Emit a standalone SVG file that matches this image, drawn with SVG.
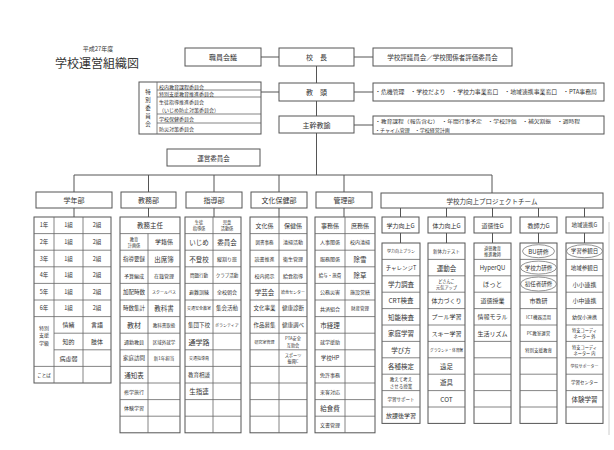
<svg xmlns="http://www.w3.org/2000/svg" width="614" height="450" viewBox="0 0 614 450">
<style>
text{font-family:"Noto Sans CJK JP","Noto Sans",sans-serif;fill:#333;text-anchor:middle;dominant-baseline:central}
.b{fill:#fff;stroke:#555;stroke-width:1}
.g{fill:none;stroke:#666;stroke-width:0.8}
.c{fill:none;stroke:#555;stroke-width:1}
.o{fill:none;stroke:#777;stroke-width:0.8}
.f7{font-size:7px}.f65{font-size:6.5px}.f6{font-size:6px}.f55{font-size:5.5px}.f5{font-size:5px}.f45{font-size:4.5px}.f42{font-size:4.2px}.f4{font-size:4px}
</style>
<rect width="614" height="450" fill="#fff"/>
<g id="title">
<text x="98" y="48" class="f6">平成27年度</text>
<text x="97" y="62" style="font-size:12px">学校運営組織図</text>
</g>
<g id="connectors">
<path class="c" d="M261,57H279M354,57H373M316.5,66V83M261,92H279M354,92H373M316.5,101V116M354,125H373M316.5,133V175M74,175H492M74,175V192M148.5,175V192M214,175V192M279,175V192M344,175V192M492,175V193M74,208V217M148.5,208V217M214,208V217M279,208V217M344,208V217M400.5,208V217M446.5,208V217M492.5,208V217M538.5,208V217M584.5,208V217M400.5,233V243M446.5,233V243M492.5,233V243M538.5,233V243M584.5,233V243"/>
</g>
<g id="shokuin"><rect class="b" x="185" y="48" width="76" height="18"/><text x="223" y="57" class="f7">職員会議</text></g>
<g id="kocho"><rect class="b" x="279" y="48" width="75" height="18"/><text x="316.5" y="57" class="f7">校　長</text></g>
<g id="hyogi"><rect class="b" x="373" y="48" width="139" height="18"/><text x="442.5" y="57" class="f65">学校評議員会／学校関係者評価委員会</text></g>
<g id="kyoto"><rect class="b" x="279" y="83" width="75" height="18"/><text x="316.5" y="92" class="f7">教　頭</text></g>
<g id="kyoto-duty"><rect class="b" x="373" y="83" width="231" height="18"/><text x="486" y="92" class="f55" textLength="222" lengthAdjust="spacingAndGlyphs">・危機管理　・学校だより　・学校力事業窓口　・地域連携事業窓口　・PTA事務局</text></g>
<g id="shukan"><rect class="b" x="279" y="116" width="75" height="17"/><text x="316.5" y="124.5" class="f7">主幹教諭</text></g>
<g id="shukan-duty"><rect class="b" x="373" y="116" width="231" height="18"/>
<text x="375" y="120.5" class="f5" style="text-anchor:start" textLength="205" lengthAdjust="spacingAndGlyphs">・教育課程（報告含む）　・年間行事予定　・学校評価　・補欠割振　・週時程</text>
<text x="375" y="129" class="f5" style="text-anchor:start">・チャイム管理　・学校経営計画</text></g>
<g id="tokubetsu">
<rect class="b" x="139" y="82" width="122" height="52"/>
<path class="g" d="M157,82V134M157,90H261M157,97H261M157,114H261M157,123H261"/>
<text x="148" y="92" class="f55">特</text><text x="148" y="100" class="f55">別</text><text x="148" y="108" class="f55">委</text><text x="148" y="116" class="f55">員</text><text x="148" y="124" class="f55">会</text>
<text x="159" y="86.3" class="f5" style="text-anchor:start">校内教育課程委員会</text>
<text x="159" y="93.5" class="f5" style="text-anchor:start">特別支援教育推進委員会</text>
<text x="159" y="101.2" class="f5" style="text-anchor:start">生徒指導推進委員会</text>
<text x="159" y="109.5" class="f5" style="text-anchor:start">（いじめ防止対策委員会）</text>
<text x="159" y="118.5" class="f5" style="text-anchor:start">学校保健委員会</text>
<text x="159" y="128.5" class="f5" style="text-anchor:start">防災対策委員会</text>
</g>
<g id="unei"><rect class="b" x="167" y="149" width="93" height="17"/><text x="213.5" y="157.5" class="f65">運営委員会</text></g>
<g id="gakunen">
<rect class="b" x="36" y="192" width="76" height="16"/><text x="74" y="200" class="f7">学年部</text>
<rect class="b" x="34" y="217" width="77" height="166"/>
<path class="g" d="M54,217V383M83,217V383M34,233.6H111M34,250.2H111M34,266.8H111M34,283.4H111M34,300H111M34,316.6H111M54,333.2H111M54,349.8H111M34,366.4H111"/>
<text x="44" y="225.3" class="f55">1年</text><text x="68.5" y="225.3" class="f55">1組</text><text x="97" y="225.3" class="f55">2組</text>
<text x="44" y="241.9" class="f55">2年</text><text x="68.5" y="241.9" class="f55">1組</text><text x="97" y="241.9" class="f55">2組</text>
<text x="44" y="258.5" class="f55">3年</text><text x="68.5" y="258.5" class="f55">1組</text><text x="97" y="258.5" class="f55">2組</text>
<text x="44" y="275.1" class="f55">4年</text><text x="68.5" y="275.1" class="f55">1組</text><text x="97" y="275.1" class="f55">2組</text>
<text x="44" y="291.7" class="f55">5年</text><text x="68.5" y="291.7" class="f55">1組</text><text x="97" y="291.7" class="f55">2組</text>
<text x="44" y="308.3" class="f55">6年</text><text x="68.5" y="308.3" class="f55">1組</text><text x="97" y="308.3" class="f55">2組</text>
<text x="44" y="327" class="f5">特別</text><text x="44" y="334.5" class="f5">支援</text><text x="44" y="342" class="f5">学級</text>
<text x="68.5" y="324.9" class="f6">情緒</text><text x="97" y="324.9" class="f6">言語</text>
<text x="68.5" y="341.5" class="f6">知的</text><text x="97" y="341.5" class="f6">肢体</text>
<text x="68.5" y="358.1" class="f6">病虚弱</text>
<text x="44" y="374.7" class="f45">ことば</text>
</g>
<g id="kyomu">
<rect class="b" x="121" y="192" width="55" height="16"/><text x="148.5" y="200" class="f7">教務部</text>
<rect class="b" x="120" y="217" width="60" height="215.8"/>
<path class="g" d="M148,233.6V432.8M120,233.6H180M120,250.2H180M120,266.8H180M120,283.4H180M120,300H180M120,316.6H180M120,333.2H180M120,349.8H180M120,366.4H180M120,383H180M120,399.6H180M120,416.2H180"/>
<text x="150" y="225.3" class="f65">教務主任</text>
<text x="134" y="238.8" class="f42">教育</text><text x="134" y="245" class="f42">計画係</text><text x="164" y="241.9" class="f6">学籍係</text>
<text x="134" y="258.5" class="f55">指導要録</text><text x="164" y="258.5" class="f65">出席簿</text>
<text x="134" y="275.1" class="f5">予算編成</text><text x="164" y="275.1" class="f5">在籍管理</text>
<text x="134" y="291.7" class="f55">加配時数</text><text x="164" y="291.7" class="f4">スクールバス</text>
<text x="134" y="308.3" class="f55">時数集計</text><text x="164" y="308.3" class="f65">教科書</text>
<text x="134" y="324.9" class="f7">教材</text><text x="164" y="324.9" class="f45">教科書取扱</text>
<text x="134" y="341.5" class="f5">通勤教員</text><text x="164" y="341.5" class="f45">区域外就学</text>
<text x="134" y="358.1" class="f55">家庭訪問</text><text x="164" y="358.1" class="f45">新1年担当</text>
<text x="134" y="374.7" class="f65">通知表</text>
<text x="134" y="391.3" class="f5">修学旅行</text>
<text x="134" y="407.9" class="f5">体験学習</text>
</g>
<g id="shido">
<rect class="b" x="186" y="192" width="56" height="16"/><text x="214" y="200" class="f7">指導部</text>
<rect class="b" x="185" y="217" width="56" height="215.8"/>
<path class="g" d="M213,217V432.8M185,233.6H241M185,250.2H241M185,266.8H241M185,283.4H241M185,300H241M185,316.6H241M185,333.2H241M185,349.8H241M185,366.4H241M185,383H241M185,399.6H241M185,416.2H241"/>
<text x="199" y="222.2" class="f42">生徒</text><text x="199" y="228.4" class="f42">指導係</text>
<text x="227" y="222.2" class="f42">児童</text><text x="227" y="228.4" class="f42">活動係</text>
<text x="199" y="241.9" class="f65">いじめ</text><text x="227" y="241.9" class="f65">委員会</text>
<text x="199" y="258.5" class="f65">不登校</text><text x="227" y="258.5" class="f5">縦割り班</text>
<text x="199" y="275.1" class="f45">問題行動</text><text x="227" y="275.1" class="f45">クラブ活動</text>
<text x="199" y="291.7" class="f5">避難訓練</text><text x="227" y="291.7" class="f5">全校朝会</text>
<text x="199" y="308.3" class="f4">交通安全教室</text><text x="227" y="308.3" class="f55">集会活動</text>
<text x="199" y="324.9" class="f55">集団下校</text><text x="227" y="324.9" class="f4">ボランティア</text>
<text x="199" y="341.5" class="f7">通学路</text>
<text x="199" y="358.1" class="f4">交通指導員</text>
<text x="199" y="374.7" class="f55">教育相談</text>
<text x="199" y="391.3" class="f65">生指連</text>
</g>
<g id="bunka">
<rect class="b" x="251" y="192" width="56" height="16"/><text x="279" y="200" class="f7">文化保健部</text>
<rect class="b" x="250" y="217" width="57" height="215.8"/>
<path class="g" d="M279,217V432.8M250,233.6H307M250,250.2H307M250,266.8H307M250,283.4H307M250,300H307M250,316.6H307M250,333.2H307M250,349.8H307M250,366.4H307M250,383H307M250,399.6H307M250,416.2H307"/>
<text x="264.5" y="225.3" class="f6">文化係</text><text x="293" y="225.3" class="f6">保健係</text>
<text x="264.5" y="241.9" class="f45">図書事務</text><text x="293" y="241.9" class="f5">清掃活動</text>
<text x="264.5" y="258.5" class="f5">読書推進</text><text x="293" y="258.5" class="f5">衛生管理</text>
<text x="264.5" y="275.1" class="f5">校内掲示</text><text x="293" y="275.1" class="f5">給食指導</text>
<text x="264.5" y="291.7" class="f65">学芸会</text><text x="293" y="291.7" class="f4">給食センター</text>
<text x="264.5" y="308.3" class="f55">文化事業</text><text x="293" y="308.3" class="f55">健康診断</text>
<text x="264.5" y="324.9" class="f55">作品募集</text><text x="293" y="324.9" class="f55">健康調べ</text>
<text x="264.5" y="341.5" class="f4">研究室管理</text><text x="293" y="338.4" class="f42">PTA安全</text><text x="293" y="344.6" class="f42">互助会</text>
<text x="293" y="355" class="f42">スポーツ</text><text x="293" y="361.2" class="f42">振興C</text>
</g>
<g id="kanri">
<rect class="b" x="316" y="192" width="56" height="16"/><text x="344" y="200" class="f7">管理部</text>
<rect class="b" x="315" y="217" width="60" height="215.8"/>
<path class="g" d="M345,217V432.8M315,233.6H375M315,250.2H375M315,266.8H375M315,283.4H375M315,300H375M315,316.6H375M315,333.2H375M315,349.8H375M315,366.4H375M315,383H375M315,399.6H375M315,416.2H375"/>
<text x="330" y="225.3" class="f6">事務係</text><text x="360" y="225.3" class="f6">庶務係</text>
<text x="330" y="241.9" class="f5">人事関係</text><text x="360" y="241.9" class="f5">校内清掃</text>
<text x="330" y="258.5" class="f5">服務関係</text><text x="360" y="258.5" class="f65">除雪</text>
<text x="330" y="275.1" class="f45">給与・旅費</text><text x="360" y="275.1" class="f65">除草</text>
<text x="330" y="291.7" class="f5">公務災害</text><text x="360" y="291.7" class="f5">施設営繕</text>
<text x="330" y="308.3" class="f5">共済組合</text><text x="360" y="308.3" class="f45">財産管理</text>
<text x="330" y="324.9" class="f65">市経理</text>
<text x="330" y="341.5" class="f5">就学援助</text>
<text x="330" y="358.1" class="f55">学校HP</text>
<text x="330" y="374.7" class="f5">免許事務</text>
<text x="330" y="391.3" class="f5">来客対応</text>
<text x="330" y="407.9" class="f65">給食費</text>
<text x="330" y="424.5" class="f5">文書管理</text>
</g>
<g id="pt">
<rect class="b" x="381" y="193" width="222" height="15"/><text x="492" y="200.5" class="f65">学校力向上プロジェクトチーム</text>
</g>
<g id="gakuryoku">
<rect class="b" x="382" y="217" width="37" height="16"/><text x="400.5" y="225" class="f6">学力向上G</text>
<rect class="b" x="382" y="243" width="38" height="180.4"/>
<path class="g" d="M382,259.4H420M382,275.8H420M382,292.2H420M382,308.6H420M382,325H420M382,341.4H420M382,357.8H420M382,374.2H420M382,390.6H420M382,407H420"/>
<text x="401" y="251.2" class="f4">学力向上プラン</text>
<text x="401" y="267.6" class="f55">チャレンジT</text>
<text x="401" y="284" class="f65">学力調査</text>
<text x="401" y="300.4" class="f65">CRT検査</text>
<text x="401" y="316.8" class="f65">知能検査</text>
<text x="401" y="333.2" class="f65">家庭学習</text>
<text x="401" y="349.6" class="f65">学び方</text>
<text x="401" y="366" class="f65">各種検定</text>
<text x="401" y="379.2" class="f45">教えて考え</text><text x="401" y="385.8" class="f45">させる授業</text>
<text x="401" y="398.8" class="f45">学習サポート</text>
<text x="401" y="415.2" class="f6">放課後学習</text>
</g>
<g id="tairyoku">
<rect class="b" x="428" y="217" width="37" height="16"/><text x="446.5" y="225" class="f6">体力向上G</text>
<rect class="b" x="428" y="243" width="37" height="180.4"/>
<path class="g" d="M428,259.4H465M428,275.8H465M428,292.2H465M428,308.6H465M428,325H465M428,341.4H465M428,357.8H465M428,374.2H465M428,390.6H465M428,407H465"/>
<text x="446.5" y="251.2" class="f45">新体力テスト</text>
<text x="446.5" y="267.6" class="f65">運動会</text>
<text x="446.5" y="280.9" class="f42">どさんこ</text><text x="446.5" y="287.1" class="f42">元気アップ</text>
<text x="446.5" y="300.4" class="f6">体力づくり</text>
<text x="446.5" y="316.8" class="f6">プール学習</text>
<text x="446.5" y="333.2" class="f6">スキー学習</text>
<text x="446.5" y="349.6" class="f4" textLength="33" lengthAdjust="spacingAndGlyphs">グラウンド・体育館</text>
<text x="446.5" y="366" class="f65">遠足</text>
<text x="446.5" y="382.4" class="f65">遊具</text>
<text x="446.5" y="398.8" class="f65">COT</text>
</g>
<g id="dotoku">
<rect class="b" x="474" y="217" width="37" height="16"/><text x="492.5" y="225" class="f6">道徳性G</text>
<rect class="b" x="474" y="243" width="37" height="180.4"/>
<path class="g" d="M474,259.4H511M474,275.8H511M474,292.2H511M474,308.6H511M474,325H511M474,341.4H511M474,357.8H511M474,374.2H511M474,390.6H511M474,407H511"/>
<text x="492.5" y="248.1" class="f42">道徳教育</text><text x="492.5" y="254.3" class="f42">推進教師</text>
<text x="492.5" y="267.6" class="f6">HyperQU</text>
<text x="492.5" y="284" class="f65">ほっと</text>
<text x="492.5" y="300.4" class="f6">道徳授業</text>
<text x="492.5" y="316.8" class="f6">情報モラル</text>
<text x="492.5" y="333.2" class="f6">生活リズム</text>
</g>
<g id="kyoshi">
<rect class="b" x="520" y="217" width="37" height="16"/><text x="538.5" y="225" class="f6">教師力G</text>
<rect class="b" x="520" y="243" width="37" height="180.4"/>
<path class="g" d="M520,259.4H557M520,275.8H557M520,292.2H557M520,308.6H557M520,325H557M520,341.4H557M520,357.8H557M520,374.2H557M520,390.6H557M520,407H557"/>
<text x="538.5" y="251.2" class="f6">BU研修</text>
<text x="538.5" y="267.6" class="f55">学校力研修</text>
<text x="538.5" y="284" class="f55">初任者研修</text>
<text x="538.5" y="300.4" class="f6">市教研</text>
<text x="538.5" y="316.8" class="f45">ICT機器活用</text>
<text x="538.5" y="333.2" class="f45">PC教室運営</text>
<text x="538.5" y="349.6" class="f45">特別支援教育</text>
<ellipse class="o" cx="538.5" cy="251.2" rx="16" ry="6.5"/>
<ellipse class="o" cx="538.5" cy="267.6" rx="18" ry="6.5"/>
<ellipse class="o" cx="538.5" cy="284" rx="18" ry="7"/>
</g>
<g id="chiiki">
<rect class="b" x="566" y="217" width="37" height="16"/><text x="584.5" y="225" class="f55">地域連携G</text>
<rect class="b" x="566" y="243" width="37" height="180.4"/>
<path class="g" d="M566,259.4H603M566,275.8H603M566,292.2H603M566,308.6H603M566,325H603M566,341.4H603M566,357.8H603M566,374.2H603M566,390.6H603M566,407H603"/>
<text x="584.5" y="251.2" class="f55">学習参観日</text>
<text x="584.5" y="267.6" class="f55">地域参観日</text>
<text x="584.5" y="284" class="f6">小小連携</text>
<text x="584.5" y="300.4" class="f6">小中連携</text>
<text x="584.5" y="316.8" class="f5">幼保小連携</text>
<text x="584.5" y="330.1" class="f42">特支コーディ</text><text x="584.5" y="336.3" class="f42">ネーター 外</text>
<text x="584.5" y="346.5" class="f42">特支コーディ</text><text x="584.5" y="352.7" class="f42">ネーター 内</text>
<text x="584.5" y="366" class="f4">学校サポーター</text>
<text x="584.5" y="382.4" class="f45">学習センター</text>
<text x="584.5" y="398.8" class="f65">体験学習</text>
<ellipse class="o" cx="584.5" cy="251.2" rx="18" ry="6.5"/>
</g>
<path d="M609,222V435" stroke="#ccc" stroke-width="1" fill="none"/>
</svg>
